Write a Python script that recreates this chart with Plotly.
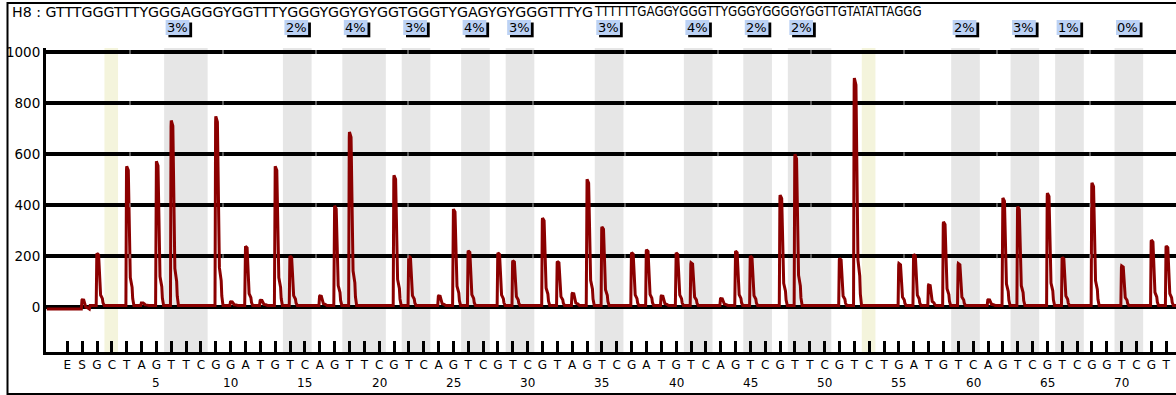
import plotly.graph_objects as go

# Dispensation order: E, S, then cycles 1..73
dispensations = list("ES" + "GCTAGTTCGGATGTCAGTTCG" + "TCAGTCGTCGTAGTCGATGTCAGTCG"
                     + "TTCGTCTGATGTCAGTCGTCGGTCGT")
disp_index = list(range(-1, 74))

# Peak heights (signal units) per dispensation
peak_pos = [0, 1, 3, 4, 5, 6, 9, 10, 11, 12, 13, 14, 16, 17, 18, 21, 22, 24, 25, 26,
            28, 29, 31, 32, 33, 34, 35, 37, 38, 39, 40, 41, 43, 44, 45, 47, 48, 51, 52,
            55, 56, 57, 58, 59, 61, 62, 63, 65, 66, 68, 70, 72, 73]
peak_height = [30, 212, 553, 18, 572, 732, 748, 22, 240, 28, 553, 201, 45, 398, 687, 517, 201, 45, 385, 222,
               214, 183, 350, 180, 55, 502, 316, 215, 226, 45, 214, 175, 35, 221, 201, 440, 600, 192, 898,
               172, 208, 88, 335, 172, 30, 429, 395, 448, 196, 488, 163, 264, 241]

# CpG sites: (first dispensation, last dispensation, methylation %)
cpg_start = [6, 14, 18, 22, 26, 29, 35, 41, 45, 48, 59, 63, 66, 70]
cpg_end = [8, 15, 20, 23, 27, 30, 36, 42, 46, 50, 60, 64, 67, 71]
cpg_pct = ["3%", "2%", "4%", "3%", "4%", "3%", "3%", "4%", "2%", "2%", "2%", "3%", "1%", "0%"]

# Bisulfite conversion controls
control_pos = [2, 53]

sequence_main = "H8 : GTTTGGGTTTYGGGAGGGYGGTTTYGGGYGGYGYGGTGGGTYGAGYGYGGGTTTYG"
sequence_tail = "TTTTTTGAGGYGGGTTYGGGYGGGGYGGTTGTATATTAGGG"

y_ticks = [0, 200, 400, 600, 800, 1000]
number_ticks = list(range(5, 71, 5))

# ---- layout geometry ----
W, H = 1176, 395
ML, MR, MT, MB = 46, 0, 48, 43
X_RANGE = [-2.434, 73.66]
Y_RANGE = [-174.2, 1015.7]
PX = (W - ML - MR) / (X_RANGE[1] - X_RANGE[0])   # pixels per dispensation
PH = H - MT - MB

# small breaks drawn across the grid lines (pixel columns)
grid_breaks = [130, 223, 316, 408, 533, 625, 718, 811, 904, 997, 1090]


def py(pix):
    """Pixel row -> paper y."""
    return (H - MB - pix) / PH


def pxp(pix):
    """Pixel column -> paper x."""
    return (pix - ML) / (W - ML - MR)


# Peak shape (pixel offset after dispensation, fraction of height)
kernel = [(-0.8, 0.0), (-0.2, 0.97), (0.0, 1.0), (1.6, 0.97), (3.0, 0.55), (3.6, 0.2),
          (5.4, 0.13), (6.0, 0.05), (7.2, 0.0)]

xs, ys = [X_RANGE[0] + 0.05], [-6]
for n, h in zip(peak_pos, peak_height):
    base = 8 if n > 0 else -6
    for dx, f in kernel:
        xs.append(n + dx / PX)
        ys.append(base + f * (h - base) if f > 0 else base)
    if n == 0:
        xs.append(n + 8 / PX)
        ys.append(8)
xs.append(X_RANGE[1] + 0.1)
ys.append(8)

fig = go.Figure()
fig.add_trace(go.Scatter(x=xs, y=ys, mode="lines",
                         line=dict(color="#8b0000", width=3),
                         hoverinfo="skip"))

shapes = []
# shaded CpG columns
for a, b in zip(cpg_start, cpg_end):
    shapes.append(dict(type="rect", xref="x", yref="paper", x0=a - 0.48, x1=b + 0.45,
                       y0=0, y1=1, fillcolor="#e6e6e6", line=dict(width=0), layer="below"))
for c in control_pos:
    shapes.append(dict(type="rect", xref="x", yref="paper", x0=c - 0.5, x1=c + 0.42,
                       y0=0, y1=1, fillcolor="#f4f4dc", line=dict(width=0), layer="below"))

# grid line breaks
for v in y_ticks[1:]:
    for gx in grid_breaks:
        shapes.append(dict(type="rect", xref="paper", yref="y", x0=pxp(gx - 0.5), x1=pxp(gx + 0.5),
                           y0=v - 8, y1=v + 8, fillcolor="#b0b0b0", line=dict(width=0)))

annotations = []
box_w = 23.7 / PX
sh = 2.8 / PX
for a, p in zip(cpg_start, cpg_pct):
    x0 = a - 0.48 + 1.5 / PX
    shapes.append(dict(type="rect", xref="x", yref="paper", x0=x0 + sh, x1=x0 + box_w + sh,
                       y0=py(37.3), y1=py(22.5), fillcolor="black", line=dict(width=0)))
    shapes.append(dict(type="rect", xref="x", yref="paper", x0=x0, x1=x0 + box_w,
                       y0=py(35), y1=py(20), fillcolor="#bcd2f5", line=dict(width=0)))
    annotations.append(dict(x=x0 + box_w / 2, y=py(27.5), xref="x", yref="paper",
                            text=p, showarrow=False, xanchor="center", yanchor="middle",
                            font=dict(family="DejaVu Sans", size=13, color="black")))

# outer frame
shapes.append(dict(type="rect", xref="paper", yref="paper", x0=pxp(7.5), x1=pxp(1190),
                   y0=py(394), y1=py(3), line=dict(color="black", width=2),
                   fillcolor="rgba(0,0,0,0)"))

for v in number_ticks:
    annotations.append(dict(x=v, y=py(382.5), xref="x", yref="paper", text=str(v),
                            showarrow=False, xanchor="center", yanchor="middle",
                            font=dict(family="DejaVu Sans", size=12, color="black")))

annotations.append(dict(x=pxp(10), y=py(12), xref="paper", yref="paper", text=sequence_main,
                        showarrow=False, xanchor="left", yanchor="middle",
                        font=dict(family="DejaVu Sans", size=14.2, color="black")))
annotations.append(dict(x=pxp(592), y=py(12), xref="paper", yref="paper", text=sequence_tail,
                        showarrow=False, xanchor="left", yanchor="middle",
                        font=dict(family="Liberation Sans Narrow, DejaVu Sans Condensed, DejaVu Sans",
                                  size=13.2, color="black")))

fig.update_layout(
    width=W, height=H,
    margin=dict(l=ML, r=MR, t=MT, b=MB),
    paper_bgcolor="white", plot_bgcolor="white",
    showlegend=False,
    shapes=shapes, annotations=annotations,
    xaxis=dict(range=X_RANGE, tickmode="array", tickvals=disp_index, ticktext=dispensations,
               ticks="inside", ticklen=11, tickwidth=2.5, tickcolor="black",
               showline=True, linewidth=3, linecolor="black",
               showgrid=False, zeroline=False, fixedrange=True,
               tickfont=dict(family="DejaVu Sans", size=12, color="black")),
    yaxis=dict(range=Y_RANGE, tickmode="array", tickvals=y_ticks,
               showgrid=True, gridcolor="black", gridwidth=4,
               showline=True, linewidth=3, linecolor="black",
               zeroline=False, ticks="", fixedrange=True,
               tickfont=dict(family="DejaVu Sans", size=13.5, color="black")),
)

fig.write_html("out.html")
